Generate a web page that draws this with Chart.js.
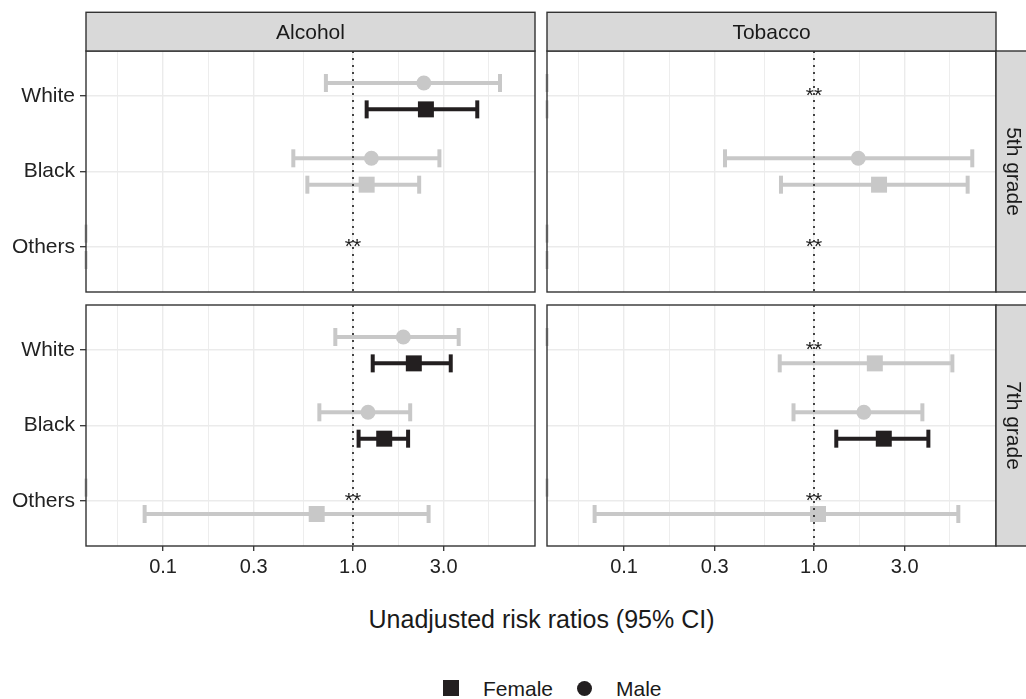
<!DOCTYPE html>
<html>
<head>
<meta charset="utf-8">
<script src="https://cdn.jsdelivr.net/npm/chart.js@4"></script>
<style>
  body { margin: 0; background: #fff; font-family: "Liberation Sans", Arial, sans-serif; }
  #page { position: relative; width: 1026px; height: 699px; overflow: hidden; }
  canvas { position: absolute; }
  .axis-title { position: absolute; left: 0; width: 1083px; top: 607px; text-align: center;
                font-size: 25px; line-height: 25px; color: #1a1a1a; }
  .lg-text { position: absolute; top: 678px; font-size: 21px; line-height: 21px; color: #1a1a1a; }
  .lg-square { position: absolute; left: 443px; top: 680px; width: 16px; height: 16px; background: #231f20; }
  .lg-circle { position: absolute; left: 577px; top: 681px; width: 15px; height: 15px; border-radius: 50%; background: #231f20; }
</style>
</head>
<body>
<div id="page">
  <canvas id="c1" width="537" height="294" style="left:0;top:0"></canvas>
  <canvas id="c2" width="486" height="294" style="left:540px;top:0"></canvas>
  <canvas id="c3" width="537" height="290" style="left:0;top:300px"></canvas>
  <canvas id="c4" width="486" height="290" style="left:540px;top:300px"></canvas>
  <div class="axis-title">Unadjusted risk ratios (95% CI)</div>
  <div class="lg-square"></div>
  <div class="lg-text" style="left:483px">Female</div>
  <div class="lg-circle"></div>
  <div class="lg-text" style="left:616px">Male</div>
</div>
<script>
Chart.defaults.font.family = '"Liberation Sans", Arial, sans-serif';
Chart.defaults.color = '#222';

const races = ['White', 'Black', 'Others'];
const tickValues = [0.1, 0.3, 1, 3];
const tickLabels = ['0.1', '0.3', '1.0', '3.0'];
const REF = 1;
const XMIN = 0.0393, XMAX = 9.08;

// [risk ratio, lower CI, upper CI] per race, null = not estimable (**)
const alcohol5Female = [[2.42, 1.18, 4.51], [1.18, 0.575, 2.23], null];
const alcohol5Male   = [[2.36, 0.72, 5.94], [1.25, 0.485, 2.85], null];
const tobacco5Female = [null, [2.20, 0.67, 6.44], null];
const tobacco5Male   = [null, [1.71, 0.34, 6.81], null];
const alcohol7Female = [[2.09, 1.27, 3.27], [1.46, 1.07, 1.95], [0.644, 0.08, 2.50]];
const alcohol7Male   = [[1.84, 0.807, 3.60], [1.20, 0.665, 2.00], null];
const tobacco7Female = [[2.09, 0.66, 5.35], [2.33, 1.31, 4.00], [1.05, 0.07, 5.75]];
const tobacco7Male   = [null, [1.83, 0.78, 3.72], null];

const BLACK = '#231f20';
const GREY = '#c8c8c8';
const DODGE = 0.175;

// minor breaks like ggplot: midpoints between majors (log space)
const L = tickValues.map(Math.log10);
const ext = [2 * L[0] - L[1], ...L, 2 * L[L.length - 1] - L[L.length - 2]];
const minorValues = ext.slice(1).map((v, i) => Math.pow(10, (v + ext[i]) / 2));
const gridValues = [...minorValues, ...tickValues].sort((a, b) => a - b);

const isMajor = c => !!(c.tick && tickValues.includes(c.tick.value));

function noPad(s) {
  s.paddingTop = 0; s.paddingBottom = 0; s.paddingLeft = 0; s.paddingRight = 0;
}

function buildDatasets(female, male) {
  const ds = [{
    data: [{ x: REF, y: -0.6 }, { x: REF, y: 2.6 }],
    showLine: true, borderColor: '#1a1a1a', borderWidth: 1.6, borderDash: [2, 5],
    pointRadius: 0, order: 0
  }];
  const missing = [];
  [[male, -DODGE, 'circle', 7.5], [female, DODGE, 'rect', 11.3]].forEach(([est, off, shape, r]) => {
    est.forEach((e, i) => {
      const y = i + off;
      if (!e) { missing.push({ x: XMIN, y }); return; }
      const col = e[1] > REF ? BLACK : GREY;
      ds.push({
        data: [{ x: e[1], y }, { x: e[2], y }],
        showLine: true, borderColor: col, borderWidth: 4, borderCapStyle: 'butt',
        pointStyle: 'line', pointRotation: 90, pointRadius: 9,
        pointBorderColor: col, pointBorderWidth: 4, order: 2
      });
      ds.push({
        data: [{ x: e[0], y }],
        pointStyle: shape, pointRadius: r, pointBackgroundColor: col,
        pointBorderWidth: 0, order: 1
      });
    });
  });
  ds.push({
    data: missing, pointStyle: 'line', pointRotation: 90, pointRadius: 9,
    pointBorderColor: GREY, pointBorderWidth: 3, clip: false, order: 2
  });
  return ds;
}

function facetPlugin(p) {
  return {
    id: 'facet',
    afterDatasetsDraw(chart) {
      const { ctx, scales } = chart;
      ctx.save();
      ctx.fillStyle = '#1a1a1a';
      ctx.font = '21px "Liberation Sans", Arial';
      ctx.textAlign = 'center';
      ctx.textBaseline = 'alphabetic';
      races.forEach((r, i) => {
        if (!p.female[i] || !p.male[i]) {
          ctx.fillText('**', scales.x.getPixelForValue(REF), scales.y.getPixelForValue(i) + 6);
        }
      });
      ctx.restore();
    },
    afterDraw(chart) {
      const { ctx, chartArea: a } = chart;
      ctx.save();
      ctx.strokeStyle = '#333';
      ctx.lineWidth = 1.4;
      ctx.strokeRect(a.left, a.top, a.right - a.left, a.bottom - a.top);
      ctx.font = '21px "Liberation Sans", Arial';
      ctx.textAlign = 'center';
      ctx.textBaseline = 'middle';
      if (p.top) {
        const h = 38.7;
        ctx.fillStyle = '#d9d9d9';
        ctx.fillRect(a.left, a.top - h, a.right - a.left, h);
        ctx.strokeRect(a.left, a.top - h, a.right - a.left, h);
        ctx.fillStyle = '#1a1a1a';
        ctx.fillText(p.top, (a.left + a.right) / 2, a.top - h / 2 + 1.5);
      }
      if (p.right) {
        const w = 30;
        ctx.fillStyle = '#d9d9d9';
        ctx.fillRect(a.right, a.top, w, a.bottom - a.top);
        ctx.strokeRect(a.right, a.top, w + 2, a.bottom - a.top);
        ctx.fillStyle = '#1a1a1a';
        ctx.translate(a.right + w / 2 + 2, (a.top + a.bottom) / 2);
        ctx.rotate(Math.PI / 2);
        ctx.fillText(p.right, 0, 0);
      }
      ctx.restore();
    }
  };
}

const panels = [
  { id: 'c1', female: alcohol5Female, male: alcohol5Male, top: 'Alcohol', right: null, left: true, bottom: false,
    padding: { top: 51, right: 2, bottom: 2, left: 0 } },
  { id: 'c2', female: tobacco5Female, male: tobacco5Male, top: 'Tobacco', right: '5th grade', left: false, bottom: false,
    padding: { top: 51, right: 30, bottom: 2, left: 0 } },
  { id: 'c3', female: alcohol7Female, male: alcohol7Male, top: null, right: null, left: true, bottom: true,
    padding: { top: 5, right: 2, bottom: 0, left: 0 } },
  { id: 'c4', female: tobacco7Female, male: tobacco7Male, top: null, right: '7th grade', left: false, bottom: true,
    padding: { top: 5, right: 30, bottom: 0, left: 0 } }
];

panels.forEach(p => {
  new Chart(document.getElementById(p.id), {
    type: 'scatter',
    data: { datasets: buildDatasets(p.female, p.male) },
    options: {
      responsive: false,
      animation: false,
      events: [],
      layout: { padding: p.padding, autoPadding: false },
      plugins: { legend: { display: false }, tooltip: { enabled: false } },
      scales: {
        x: {
          type: 'logarithmic', min: XMIN, max: XMAX,
          afterBuildTicks: s => { s.ticks = gridValues.map(v => ({ value: v })); },
          afterFit: s => { s.height = p.bottom ? 44 : 0; noPad(s); },
          border: { display: false },
          grid: {
            color: '#ebebeb',
            lineWidth: c => isMajor(c) ? 1.4 : 0.9,
            drawTicks: p.bottom, tickLength: 5, tickWidth: 1.3,
            tickColor: c => isMajor(c) ? '#333' : 'rgba(0,0,0,0)'
          },
          ticks: {
            display: p.bottom, autoSkip: false, maxRotation: 0, padding: 4,
            color: '#222', font: { size: 20 },
            callback: v => { const k = tickValues.indexOf(v); return k < 0 ? '' : tickLabels[k]; }
          }
        },
        y: {
          type: 'linear', reverse: true, min: -0.6, max: 2.6,
          afterBuildTicks: s => { s.ticks = races.map((_, i) => ({ value: i })); },
          afterFit: s => { s.width = p.left ? 86 : 7; noPad(s); },
          border: { display: false },
          grid: { color: '#ebebeb', lineWidth: 1.4, drawTicks: p.left, tickLength: 6, tickWidth: 1.3, tickColor: '#333' },
          ticks: {
            display: p.left, padding: 5, color: '#222', font: { size: 21 },
            callback: v => races[v] ?? ''
          }
        }
      }
    },
    plugins: [facetPlugin(p)]
  });
});
</script>
</body>
</html>
